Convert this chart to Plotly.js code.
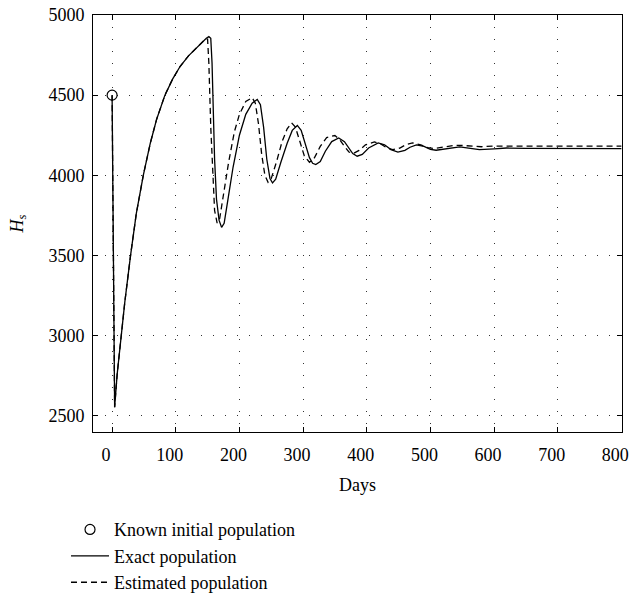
<!DOCTYPE html>
<html>
<head>
<meta charset="utf-8">
<script src="https://cdn.plot.ly/plotly-3.0.1.min.js"></script>
<style>html,body{margin:0;padding:0;background:#fff;}#chart{width:630px;height:597px;}</style>
</head>
<body>
<div id="chart"></div>
<script>
// Known initial population
const initDay = [0];
const initPop = [4500];

// Exact population
const exactDays = [0, 2, 4, 8, 14, 20, 29, 38, 49, 60, 70, 83, 95, 107, 120, 130, 140, 148, 152, 155, 157, 159, 161, 164, 168, 172, 176, 182, 190, 200, 210, 220, 228, 233, 238, 243, 248, 252, 257, 265, 275, 283, 291, 297, 303, 310, 315, 320, 327, 335, 345, 356, 365, 372, 378, 385, 393, 403, 418, 428, 438, 449, 460, 468, 478, 490, 500, 509, 520, 535, 546, 560, 577, 600, 620, 650, 700, 750, 800];
const exactPop = [4500, 3500, 2553, 2760, 3000, 3210, 3500, 3760, 4000, 4200, 4350, 4500, 4600, 4680, 4745, 4785, 4825, 4855, 4865, 4855, 4700, 4400, 4100, 3850, 3720, 3675, 3700, 3850, 4050, 4250, 4380, 4450, 4473, 4440, 4300, 4100, 3980, 3952, 3975, 4080, 4200, 4280, 4311, 4280, 4200, 4110, 4075, 4067, 4085, 4150, 4210, 4233, 4210, 4170, 4135, 4119, 4130, 4170, 4202, 4190, 4160, 4144, 4155, 4175, 4190, 4180, 4162, 4156, 4162, 4173, 4177, 4170, 4160, 4165, 4170, 4168, 4166, 4166, 4166];

// Estimated population
const estDays = [0, 2, 4, 8, 14, 20, 29, 38, 49, 60, 70, 83, 95, 107, 120, 130, 140, 147, 150, 152, 155, 158, 161, 165, 169, 175, 183, 192, 200, 210, 220, 225, 230, 235, 240, 245, 250, 258, 267, 275, 282, 288, 295, 302, 310, 318, 327, 337, 350, 358, 365, 372, 379, 388, 398, 412, 422, 432, 441, 452, 462, 472, 485, 496, 507, 520, 535, 546, 560, 580, 600, 650, 700, 800];
const estPop = [4500, 3500, 2553, 2760, 3000, 3210, 3500, 3760, 4000, 4200, 4350, 4500, 4600, 4680, 4745, 4785, 4825, 4852, 4850, 4700, 4300, 4000, 3780, 3702, 3730, 3880, 4080, 4270, 4380, 4460, 4484, 4450, 4320, 4130, 4000, 3956, 3980, 4080, 4210, 4290, 4327, 4300, 4210, 4120, 4081, 4110, 4180, 4235, 4248, 4220, 4180, 4145, 4136, 4155, 4190, 4208, 4195, 4170, 4160, 4170, 4192, 4202, 4190, 4172, 4167, 4175, 4185, 4187, 4182, 4178, 4182, 4183, 4182, 4182];

const xTicks = [0, 100, 200, 300, 400, 500, 600, 700, 800];
const yTicks = [2500, 3000, 3500, 4000, 4500, 5000];

const font = {family: 'Times New Roman, Liberation Serif, DejaVu Serif, serif', size: 18, color: '#000'};

const traces = [
  {x: initDay, y: initPop, mode: 'markers', name: 'Known initial population',
   marker: {symbol: 'circle-open', size: 10, color: '#000', line: {width: 1.2, color: '#000'}}},
  {x: exactDays, y: exactPop, mode: 'lines', name: 'Exact population',
   line: {color: '#000', width: 1.3}},
  {x: estDays, y: estPop, mode: 'lines', name: 'Estimated population',
   line: {color: '#000', width: 1.3, dash: '6px,4px'}}
];

const axisCommon = {
  showline: true, linecolor: '#000', linewidth: 1, mirror: 'ticks',
  ticks: 'inside', ticklen: 5, tickcolor: '#000', tickwidth: 1,
  showgrid: true, gridcolor: '#333', gridwidth: 1, griddash: '1px,11px',
  zeroline: false, tickfont: font
};

const layout = {
  width: 630, height: 597,
  margin: {l: 93, r: 8, t: 15, b: 165, autoexpand: false},
  paper_bgcolor: '#fff', plot_bgcolor: '#fff',
  font: font,
  showlegend: true,
  legend: {x: -0.051, y: -0.19, xanchor: 'left', yanchor: 'top', orientation: 'v',
           itemwidth: 38, font: font, bgcolor: 'rgba(0,0,0,0)', tracegroupgap: 0},
  xaxis: Object.assign({}, axisCommon, {
    range: [-30, 801], tickvals: xTicks, ticktext: xTicks.map(String),
    ticklabelstandoff: 6, ticklabelshift: -6, automargin: false,
    title: {text: 'Days', font: font, standoff: 14}
  }),
  yaxis: Object.assign({}, axisCommon, {
    range: [2398, 5000], tickvals: yTicks, ticktext: yTicks.map(String),
    ticklabelstandoff: 4, automargin: false,
    title: {text: '<i>H<sub>s</sub></i>', font: font, standoff: 20}
  })
};

Plotly.newPlot('chart', traces, layout, {displayModeBar: false, staticPlot: true});
</script>
</body>
</html>
